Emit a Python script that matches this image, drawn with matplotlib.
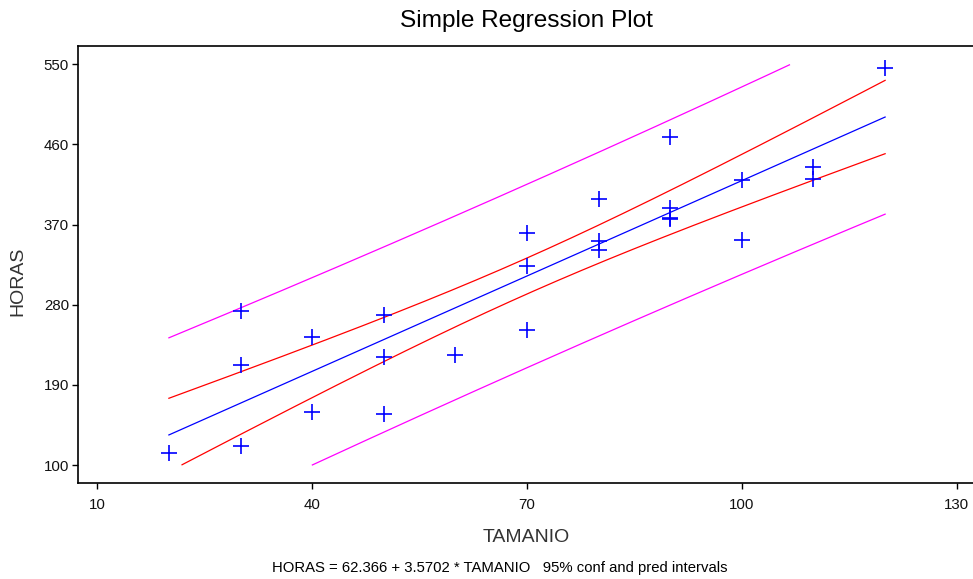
import numpy as np
import matplotlib
matplotlib.use("Agg")
import matplotlib.pyplot as plt

plt.rcParams['font.family'] = ['Liberation Sans', 'DejaVu Sans']

tamanio = [80, 30, 50, 90, 70, 60, 120, 80, 100, 50, 40, 70, 90, 20, 110,
           100, 30, 50, 90, 110, 30, 90, 40, 80, 70]
horas = [399, 121, 221, 376, 361, 224, 546, 352, 353, 157, 160, 252, 389, 113, 435,
         420, 212, 268, 377, 421, 273, 468, 244, 342, 323]
xticks = [10, 40, 70, 100, 130]
yticks = [100, 190, 280, 370, 460, 550]

x = np.array(tamanio, float)
y = np.array(horas, float)
n = len(x)
b1, b0 = np.polyfit(x, y, 1)
resid = y - (b0 + b1 * x)
s = np.sqrt(np.sum(resid ** 2) / (n - 2))
sxx = np.sum((x - x.mean()) ** 2)
t = 2.0687  # t(0.975, 23)

xg = np.linspace(x.min(), x.max(), 600)
fit = b0 + b1 * xg
ci = t * s * np.sqrt(1 / n + (xg - x.mean()) ** 2 / sxx)
pi = t * s * np.sqrt(1 + 1 / n + (xg - x.mean()) ** 2 / sxx)

def clip(v):
    v = v.copy()
    v[(v < 100) | (v > 550)] = np.nan
    return v

W, H = 973, 579
fig = plt.figure(figsize=(W / 100, H / 100), dpi=100)
ax = fig.add_axes([78 / W, 1 - 483 / H, (W - 78) / W, (483 - 45.7) / H])
ax.plot(xg, clip(fit), color='#0000ff', lw=0.9)
ax.plot(xg, clip(fit - ci), color='#ff0000', lw=0.9)
ax.plot(xg, clip(fit + ci), color='#ff0000', lw=0.9)
ax.plot(xg, clip(fit - pi), color='#ff00ff', lw=0.9)
ax.plot(xg, clip(fit + pi), color='#ff00ff', lw=0.9)
ax.plot(x, y, linestyle='none', marker='+', color='#0000ff', markersize=11, markeredgewidth=1.2)

ax.set_xlim(7.31, 132.27)
ax.set_ylim(79.8, 570.9)
ax.set_xticks(xticks)
ax.set_yticks(yticks)
ax.tick_params(labelsize=10.8, length=4.5, width=1, color='black', labelcolor='#111111')
ax.tick_params(axis='y', pad=2)
ax.tick_params(axis='x', pad=6)
for sp in ['left', 'bottom', 'top']:
    ax.spines[sp].set_linewidth(1.2)
ax.spines['right'].set_visible(False)
fig.text(526 / W, 1 - 537 / H, 'TAMANIO', fontsize=14, color='#333333', ha='center', va='center')
fig.text(17.5 / W, 1 - 281 / H, 'HORAS', fontsize=14, color='#333333', ha='center', va='center',
         rotation=90)
fig.text(526 / W, 1 - 21 / H, 'Simple Regression Plot', fontsize=17.6,
         ha='center', va='center')
fig.text(500 / W, 1 - 568 / H,
         'HORAS = 62.366 + 3.5702 * TAMANIO   95% conf and pred intervals',
         fontsize=10.7, ha='center', va='center')
fig.savefig('out.png', dpi=100)
